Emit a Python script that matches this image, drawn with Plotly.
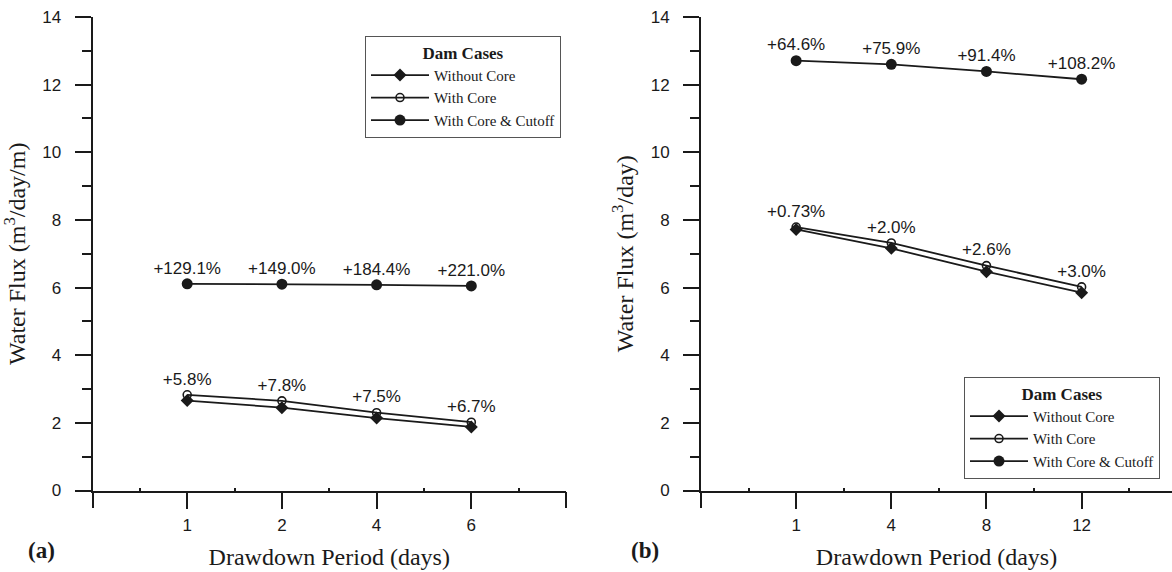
import plotly.graph_objects as go

# ---- data ----
a_days = ["1", "2", "4", "6"]
b_days = ["1", "4", "8", "12"]
a_without_core = [2.66, 2.45, 2.14, 1.88]
a_with_core = [2.83, 2.65, 2.30, 2.02]
a_with_cutoff = [6.11, 6.10, 6.08, 6.05]
a_core_pct = ["+5.8%", "+7.8%", "+7.5%", "+6.7%"]
a_cutoff_pct = ["+129.1%", "+149.0%", "+184.4%", "+221.0%"]

b_without_core = [7.72, 7.16, 6.47, 5.85]
b_with_core = [7.79, 7.32, 6.65, 6.02]
b_with_cutoff = [12.71, 12.60, 12.39, 12.16]
b_core_pct = ["+0.73%", "+2.0%", "+2.6%", "+3.0%"]
b_cutoff_pct = ["+64.6%", "+75.9%", "+91.4%", "+108.2%"]

series_names = ["Without Core", "With Core", "With Core & Cutoff"]
y_ticks = [0, 2, 4, 6, 8, 10, 12, 14]
x_title = "Drawdown Period (days)"
y_title_a = "Water Flux (m<sup>3</sup>/day/m)"
y_title_b = "Water Flux (m<sup>3</sup>/day)"

W, H = 1172, 572
INK = "#1a1a1a"
SERIF = "Liberation Serif"
SANS = "Liberation Sans"

fig = go.Figure()

def add_panel(days, without, withc, cutoff, core_pct, cut_pct, xa, ya, xa_edge, legend):
    xs = list(range(1, len(days) + 1))
    styles = [
        dict(symbol="diamond", size=10, color=INK, line=dict(width=0)),
        dict(symbol="circle-open", size=8, color=INK, line=dict(width=1.6, color=INK)),
        dict(symbol="circle", size=11, color=INK, line=dict(width=0)),
    ]
    for name, vals, st in zip(series_names, [without, withc, cutoff], styles):
        fig.add_trace(go.Scatter(
            x=xs, y=vals, name=name, mode="lines+markers",
            line=dict(color=INK, width=1.8), marker=st,
            xaxis=xa, yaxis=ya, legend=legend, hoverinfo="skip"))
    for vals, txt in [(withc, core_pct), (cutoff, cut_pct)]:
        fig.add_trace(go.Scatter(
            x=xs, y=vals, text=txt, mode="markers+text", textposition="top center",
            marker=dict(size=8, opacity=0), textfont=dict(family=SANS, size=17, color=INK),
            showlegend=False, xaxis=xa, yaxis=ya, hoverinfo="skip"))
    # empty trace so the edge-tick overlay axis is drawn
    fig.add_trace(go.Scatter(x=[], y=[], xaxis=xa_edge, yaxis=ya, showlegend=False, hoverinfo="skip"))

add_panel(a_days, a_without_core, a_with_core, a_with_cutoff, a_core_pct, a_cutoff_pct, "x", "y", "x3", "legend")
add_panel(b_days, b_without_core, b_with_core, b_with_cutoff, b_core_pct, b_cutoff_pct, "x2", "y2", "x4", "legend2")

def xaxis(domain, rng, days):
    n = len(days)
    return dict(
        domain=domain, range=rng, tickmode="array",
        tickvals=list(range(1, n + 1)), ticktext=days,
        ticks="outside", ticklen=16, tickwidth=2, tickcolor=INK,
        showline=True, linecolor=INK, linewidth=2, showgrid=False, zeroline=False,
        tickfont=dict(family=SANS, size=17, color=INK), ticklabelstandoff=2,
        minor=dict(tickmode="array", tickvals=[i + 0.5 for i in range(0, n + 1)],
                   ticks="inside", ticklen=3, tickwidth=1.5, tickcolor=INK),
        title=dict(text=x_title, font=dict(family=SERIF, size=24, color=INK), standoff=14),
        fixedrange=True, automargin=False,
    )

def edge_axis(domain, rng, n, overlay, anchor):
    return dict(
        domain=domain, range=rng, overlaying=overlay, anchor=anchor,
        tickmode="array", tickvals=[0, n + 1], showticklabels=False,
        ticks="outside", ticklen=16, tickwidth=2, tickcolor=INK,
        showline=False, showgrid=False, zeroline=False, fixedrange=True, automargin=False,
    )

def yaxis(anchor, title):
    return dict(
        domain=[1 - 490.5 / H, 1 - 17 / H], range=[0, 14], anchor=anchor,
        tickmode="array", tickvals=y_ticks,
        ticks="outside", ticklen=16, tickwidth=2, tickcolor=INK,
        showline=True, linecolor=INK, linewidth=2, showgrid=False, zeroline=False,
        tickfont=dict(family=SANS, size=17, color=INK), ticklabelstandoff=10,
        minor=dict(dtick=1, ticks="outside", ticklen=9, tickwidth=1.5, tickcolor=INK),
        title=dict(text=title, font=dict(family=SERIF, size=24, color=INK), standoff=10),
        fixedrange=True, automargin=False,
    )

legend_common = dict(
    xanchor="left", yanchor="top", bgcolor="white", bordercolor="#555", borderwidth=1,
    font=dict(family=SERIF, size=15, color=INK), tracegroupgap=0, itemwidth=58,
    title=dict(text="<b>Dam Cases</b>", side="top center", font=dict(family=SERIF, size=17, color=INK)),
)

dom_a = [92.5 / W, 566 / W]
dom_b = [701 / W, 1.0]
rng_a = [0, 5]
rng_b = [0, 4.95]

fig.update_layout(
    width=W, height=H, margin=dict(l=0, r=0, t=0, b=0, pad=0, autoexpand=False),
    paper_bgcolor="white", plot_bgcolor="white",
    xaxis=dict(xaxis(dom_a, rng_a, a_days), anchor="y"),
    yaxis=yaxis("x", y_title_a),
    xaxis2=dict(xaxis(dom_b, rng_b, b_days), anchor="y2"),
    yaxis2=yaxis("x2", y_title_b),
    xaxis3=edge_axis(dom_a, rng_a, len(a_days), "x", "y"),
    xaxis4=edge_axis(dom_b, rng_b, len(b_days), "x2", "y2"),
    legend=dict(legend_common, x=365 / W, y=1 - 35.7 / H),
    legend2=dict(legend_common, x=964 / W, y=1 - 376.7 / H),
    showlegend=True,
)

ann = []
for cx, lab in [(41, "(a)"), (645, "(b)")]:
    ann.append(dict(text="<b>" + lab + "</b>", x=cx / W, y=1 - 550 / H, xref="paper", yref="paper",
                    xanchor="center", yanchor="middle", showarrow=False,
                    font=dict(family=SERIF, size=23, color=INK)))
fig.update_layout(annotations=ann)

fig.write_html("out.html")
